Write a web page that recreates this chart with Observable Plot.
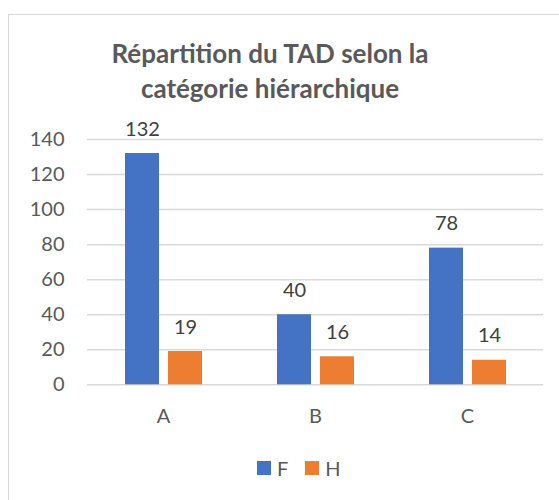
<!DOCTYPE html>
<html>
<head>
<meta charset="utf-8">
<script src="https://cdn.jsdelivr.net/npm/d3@7"></script>
<script src="https://cdn.jsdelivr.net/npm/@observablehq/plot@0.6"></script>
<style>
  html, body { margin: 0; padding: 0; background: #fff; }
  #wrap { position: relative; width: 559px; height: 500px; overflow: hidden; font-family: Lato, "Open Sans", sans-serif; }
  #frame { position: absolute; left: 8px; top: 14px; width: 600px; height: 600px; border: 1.5px solid #d9d9d9; box-sizing: border-box; }
  #title { position: absolute; left: 0; width: 540px; top: 36px; text-align: center; font-weight: bold; font-size: 26px; line-height: 35px; color: #595959; }
  #chart { position: absolute; left: 0; top: 110px; }
  #legend { position: absolute; top: 456px; left: 257px; display: flex; align-items: center; font-size: 20px; color: #595959; }
  .sw { width: 14px; height: 14px; display: inline-block; margin-right: 6px; }
  .item { display: flex; align-items: center; margin-right: 17px; }
</style>
</head>
<body>
<div id="wrap">
  <div id="frame"></div>
  <div id="title">Répartition du TAD selon la<br>catégorie hiérarchique</div>
  <div id="chart"></div>
  <div id="legend"></div>
</div>
<script>
const categories = ["A", "B", "C"];
const series = ["F", "H"];
const valuesF = [132, 40, 78];
const valuesH = [19, 16, 14];
const yTicks = [0, 20, 40, 60, 80, 100, 120, 140];
const colors = ["#4472C4", "#ED7D31"];

const data = [];
categories.forEach((c, i) => {
  data.push({category: c, series: "F", value: valuesF[i]});
  data.push({category: c, series: "H", value: valuesH[i]});
});

const plot = Plot.plot({
  width: 559,
  height: 330,
  marginLeft: 86,
  marginRight: 16,
  marginTop: 29,
  marginBottom: 55.7,
  style: {fontSize: "20px", fontFamily: "Lato, 'Open Sans', sans-serif", color: "#595959", background: "transparent"},
  fx: {domain: categories, padding: 0, tickSize: 0, tickPadding: 24, label: null},
  x: {domain: series, axis: null, paddingInner: 0.218, paddingOuter: 0.86},
  y: {domain: [0, 140], ticks: yTicks, tickSize: 0, tickPadding: 23, label: null},
  color: {domain: series, range: colors},
  marks: [
    Plot.ruleY(yTicks, {stroke: "#d9d9d9", strokeWidth: 1.5}),
    Plot.barY(data, {fx: "category", x: "series", y: "value", fill: "series"}),
    Plot.text(data, {fx: "category", x: "series", y: "value", text: d => String(d.value), lineAnchor: "bottom", dy: -18, fill: "#404040", fontSize: 20})
  ]
});
document.getElementById("chart").appendChild(plot);

const legend = document.getElementById("legend");
series.forEach((s, i) => {
  const item = document.createElement("div");
  item.className = "item";
  const sw = document.createElement("span");
  sw.className = "sw";
  sw.style.background = colors[i];
  const t = document.createElement("span");
  t.textContent = s;
  item.appendChild(sw);
  item.appendChild(t);
  legend.appendChild(item);
});
</script>
</body>
</html>
